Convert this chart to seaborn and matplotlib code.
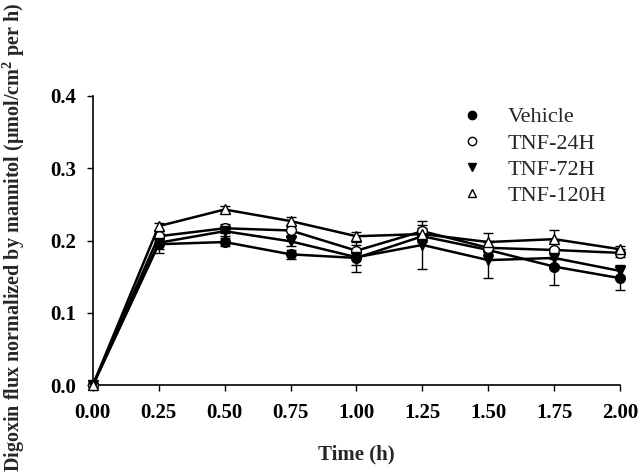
import numpy as np
import pandas as pd
import matplotlib
matplotlib.use("Agg")
import matplotlib.pyplot as plt
import seaborn as sns

# Sampling times (h)
time_h = [0.00, 0.25, 0.50, 0.75, 1.00, 1.25, 1.50, 1.75, 2.00]

# Mean digoxin flux normalized by mannitol for each group
vehicle = [0.0, 0.195, 0.198, 0.181, 0.176, 0.206, 0.187, 0.164, 0.148]
tnf_24h = [0.0, 0.206, 0.217, 0.214, 0.186, 0.213, 0.190, 0.187, 0.183]
tnf_72h = [0.0, 0.197, 0.213, 0.199, 0.177, 0.194, 0.173, 0.176, 0.158]
tnf_120h = [0.0, 0.220, 0.243, 0.227, 0.206, 0.209, 0.198, 0.202, 0.188]

# Standard errors
vehicle_err = [0.0, 0.012, 0.006, 0.006, 0.010, 0.008, 0.012, 0.026, 0.016]
tnf_24h_err = [0.0, 0.005, 0.006, 0.006, 0.008, 0.008, 0.008, 0.012, 0.006]
tnf_72h_err = [0.0, 0.008, 0.006, 0.006, 0.021, 0.033, 0.025, 0.010, 0.008]
tnf_120h_err = [0.0, 0.005, 0.005, 0.005, 0.006, 0.008, 0.012, 0.012, 0.005]

groups = ["Vehicle", "TNF-24H", "TNF-72H", "TNF-120H"]
means = [vehicle, tnf_24h, tnf_72h, tnf_120h]
errors = [vehicle_err, tnf_24h_err, tnf_72h_err, tnf_120h_err]
x_ticklabels = ["0.00", "0.25", "0.50", "0.75", "1.00", "1.25", "1.50", "1.75", "2.00"]
y_ticks = [0.0, 0.1, 0.2, 0.3, 0.4]
y_ticklabels = ["0.0", "0.1", "0.2", "0.3", "0.4"]

df = pd.DataFrame({
    "time": np.tile(time_h, len(groups)),
    "flux": np.concatenate(means),
    "err": np.concatenate(errors),
    "group": np.repeat(groups, len(time_h)),
})

sns.set_theme(style="ticks")
plt.rcParams["font.family"] = ["Liberation Serif", "DejaVu Serif"]
plt.rcParams["mathtext.fontset"] = "custom"
plt.rcParams["mathtext.bf"] = "Liberation Serif:bold"
plt.rcParams["mathtext.rm"] = "Liberation Serif"

marker_map = {"Vehicle": "o", "TNF-24H": "o", "TNF-72H": "v", "TNF-120H": "^"}
face_map = {"Vehicle": "black", "TNF-24H": "white", "TNF-72H": "black", "TNF-120H": "white"}

fig = plt.figure(figsize=(6.4, 4.75), dpi=100)
ax = fig.add_axes([0.145, 0.189, 0.824, 0.609])

for g in groups:
    sub = df[df["group"] == g]
    ax.errorbar(sub["time"], sub["flux"], yerr=sub["err"], fmt="none",
                ecolor="black", elinewidth=1.0, capsize=3.5, capthick=1.0, zorder=2)
    sns.lineplot(data=sub, x="time", y="flux", ax=ax, color="black",
                 linewidth=1.8, marker=marker_map[g], markersize=7,
                 markerfacecolor=face_map[g], markeredgecolor="black",
                 markeredgewidth=1.0, zorder=3, legend=False)

sns.despine(ax=ax)
for s in ["left", "bottom"]:
    ax.spines[s].set_linewidth(1.2)
    ax.spines[s].set_color("black")

ax.set_xlim(0, 2.0)
ax.set_ylim(0, 0.4)
tick_font = {"fontsize": 15, "fontweight": "bold"}
ax.set_xticks(time_h)
ax.set_xticklabels(x_ticklabels, fontdict=tick_font)
ax.set_yticks(y_ticks)
ax.set_yticklabels(y_ticklabels, fontdict=tick_font)
ax.tick_params(axis="both", direction="out", length=4, width=1.0, colors="black")
ax.tick_params(axis="y", pad=8)
ax.tick_params(axis="x", pad=9)

for art in ax.lines + ax.collections:
    art.set_clip_on(False)

ax.set_xlabel("Time (h)", fontsize=15, fontweight="bold")
ax.xaxis.set_label_coords(0.5, -0.205)
ax.set_ylabel("Digoxin flux normalized by mannitol (µmol/cm$^{\\mathbf{2}}$ per h)",
              fontsize=14.5, fontweight="bold")
ax.yaxis.set_label_coords(-0.125, 0.51)

handles = [
    plt.Line2D([], [], linestyle="none", marker=marker_map[g], markersize=6,
               markerfacecolor=face_map[g], markeredgecolor="black", markeredgewidth=1.0)
    for g in groups
]
fig.legend(handles, groups, loc="upper left", bbox_to_anchor=(0.689, 0.817),
           frameon=False, fontsize=16, handletextpad=1.1, labelspacing=0.25,
           handlelength=1.0, borderpad=0.4)

fig.savefig("out.png", dpi=100)
